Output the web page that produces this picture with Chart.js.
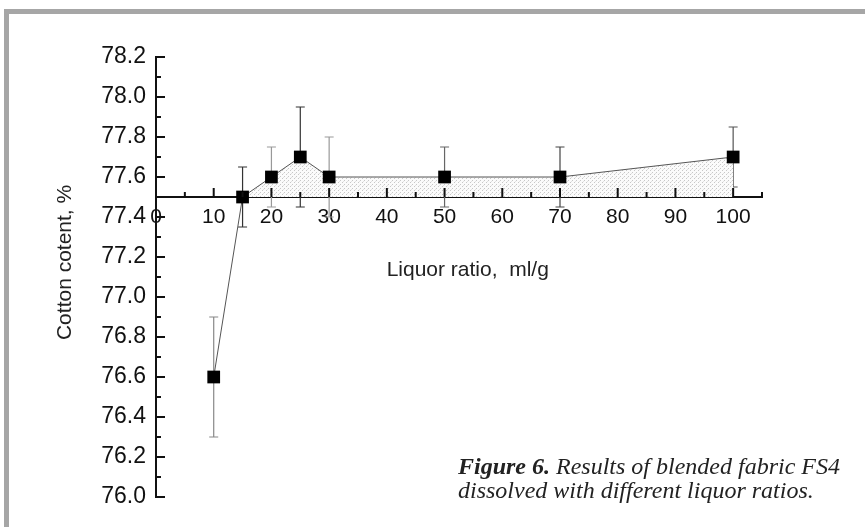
<!DOCTYPE html>
<html>
<head>
<meta charset="utf-8">
<script src="https://cdn.jsdelivr.net/npm/chart.js@4.4.1/dist/chart.umd.min.js"></script>
<style>
  body { margin: 0; background: #fff; }
  .wrap { position: relative; width: 865px; height: 527px; overflow: hidden; }
  .frame {
    position: absolute; left: 4px; top: 9px; right: 0; bottom: 0;
    border-top: 5px solid #a6a6a6; border-left: 5px solid #a6a6a6;
  }
  canvas { position: absolute; left: 0; top: 0; }
  .caption {
    position: absolute; left: 458px; top: 454px;
    font-family: "Liberation Serif", "DejaVu Serif", serif;
    font-style: italic; font-size: 24px; line-height: 24px; color: #222;
  }
  .caption b { font-weight: bold; }
</style>
</head>
<body>
<div class="wrap">
  <div class="frame"></div>
  <canvas id="chart" width="865" height="527"></canvas>
  <div class="caption"><b>Figure 6.</b> Results of blended fabric FS4<br>dissolved with different liquor ratios.</div>
</div>
<script>
// liquor ratio (ml/g) vs cotton content (%)
const ratios = [10, 15, 20, 25, 30, 50, 70, 100];
const cotton = [76.6, 77.5, 77.6, 77.7, 77.6, 77.6, 77.6, 77.7];
const errors = [0.3, 0.15, 0.15, 0.25, 0.2, 0.15, 0.15, 0.15];
const xTicks = [0, 10, 20, 30, 40, 50, 60, 70, 80, 90, 100];

const errColors = ["#888", "#333", "#999", "#333", "#999", "#666", "#444", "#555"];

// stipple for the shaded area
const pat = document.createElement("canvas");
pat.width = 4;
pat.height = 4;
const pctx = pat.getContext("2d");
pctx.fillStyle = "#fbfbfb";
pctx.fillRect(0, 0, 4, 4);
pctx.fillStyle = "#c8c8c8";
pctx.fillRect(0, 0, 1, 1);
pctx.fillRect(2, 2, 1, 1);
pctx.fillStyle = "#e2e2e2";
pctx.fillRect(3, 1, 1, 1);
const stipple = document.createElement("canvas").getContext("2d").createPattern(pat, "repeat");

const errorBars = {
  id: "errorBars",
  beforeDatasetsDraw(chart) {
    const { ctx, scales: { x, y } } = chart;
    ctx.save();
    ctx.lineWidth = 1.2;
    ratios.forEach((r, i) => {
      const px = x.getPixelForValue(r);
      const top = y.getPixelForValue(cotton[i] + errors[i]);
      const bot = y.getPixelForValue(cotton[i] - errors[i]);
      ctx.strokeStyle = errColors[i];
      ctx.beginPath();
      ctx.moveTo(px, top);
      ctx.lineTo(px, bot);
      ctx.moveTo(px - 4.5, top);
      ctx.lineTo(px + 4.5, top);
      ctx.moveTo(px - 4.5, bot);
      ctx.lineTo(px + 4.5, bot);
      ctx.stroke();
    });
    ctx.restore();
  }
};

// ticks pointing inward, like the original plot
const innerTicks = {
  id: "innerTicks",
  afterDraw(chart) {
    const { ctx, scales: { x, y } } = chart;
    const left = chart.chartArea.left;
    const axisY = y.getPixelForValue(77.5);
    ctx.save();
    ctx.strokeStyle = "#111";
    ctx.lineWidth = 2;
    ctx.beginPath();
    y.ticks.forEach((t, i) => {
      const py = y.getPixelForValue(t.value);
      ctx.moveTo(left, py);
      ctx.lineTo(left + 9, py);
      if (i < y.ticks.length - 1) {
        const pm = y.getPixelForValue(t.value + 0.1);
        ctx.moveTo(left, pm);
        ctx.lineTo(left + 5, pm);
      }
    });
    x.ticks.forEach((t) => {
      const px = x.getPixelForValue(t.value);
      ctx.moveTo(px, axisY);
      ctx.lineTo(px, axisY - 9);
      const pm = x.getPixelForValue(t.value + 5);
      ctx.moveTo(pm, axisY);
      ctx.lineTo(pm, axisY - 5);
    });
    ctx.stroke();
    ctx.restore();
  }
};

new Chart(document.getElementById("chart"), {
  type: "line",
  data: {
    datasets: [
      {
        data: ratios.map((r, i) => ({ x: r, y: cotton[i] })),
        borderColor: "#555",
        borderWidth: 1,
        pointStyle: "rect",
        pointRadius: 9,
        pointBackgroundColor: "#000",
        pointBorderWidth: 0,
        fill: { target: { value: 77.5 }, above: stipple, below: "rgba(0,0,0,0)" },
        tension: 0,
      },
    ],
  },
  options: {
    responsive: false,
    animation: false,
    layout: { padding: { left: 0, top: 57, right: 103, bottom: 30 } },
    plugins: {
      legend: { display: false },
      tooltip: { enabled: false },
    },
    scales: {
      x: {
        type: "linear",
        position: { y: 77.5 },
        min: 0,
        max: 105,
        afterBuildTicks: (scale) => {
          scale.ticks = xTicks.map((v) => ({ value: v }));
        },
        grid: { display: false, drawTicks: false },
        border: { display: true, color: "#111", width: 2 },
        ticks: {
          padding: 8,
          color: "#111",
          font: { family: "Liberation Sans", size: 21 },
          maxRotation: 0,
          autoSkip: false,
        },
        title: {
          display: true,
          text: "   Liquor ratio,  ml/g",
          color: "#222",
          font: { family: "Liberation Sans", size: 21 },
          padding: { top: 19, bottom: 0 },
        },
      },
      y: {
        min: 76.0,
        max: 78.2,
        afterFit: (scale) => {
          scale.width = 156;
        },
        grid: { display: false, drawTicks: false },
        border: { display: true, color: "#111", width: 2 },
        ticks: {
          stepSize: 0.2,
          padding: 10,
          color: "#111",
          font: { family: "Liberation Sans", size: 23 },
          callback: (v) => Number(v).toFixed(1),
        },
        title: {
          display: true,
          text: "     Cotton cotent, %",
          color: "#222",
          font: { family: "Liberation Sans", size: 21 },
          padding: { top: 53, bottom: 0 },
        },
      },
    },
  },
  plugins: [errorBars, innerTicks],
});
</script>
</body>
</html>
